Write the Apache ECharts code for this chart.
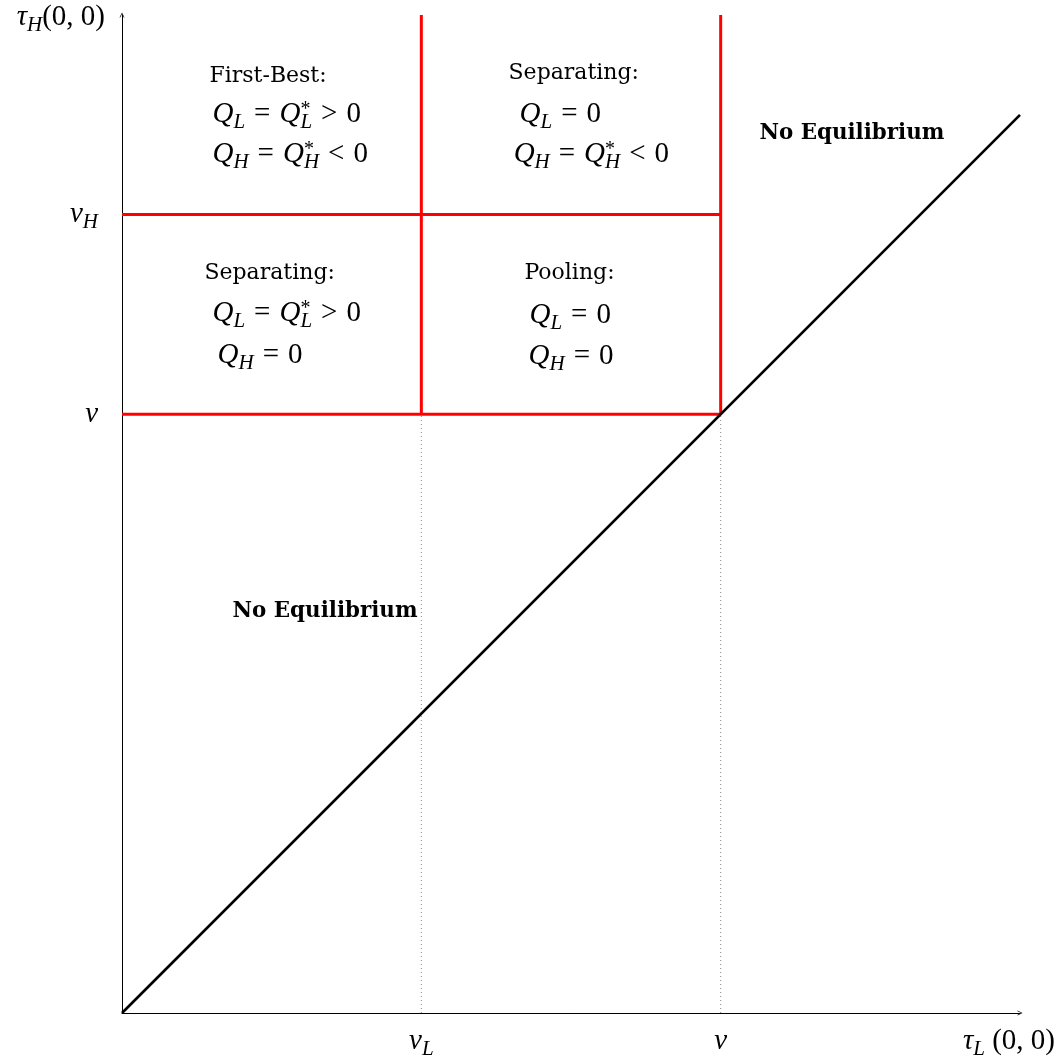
<!DOCTYPE html>
<html><head><meta charset="utf-8">
<script src="https://cdn.jsdelivr.net/npm/echarts@6/dist/echarts.min.js"></script>
<style>html,body{margin:0;padding:0;background:#fff}#c{width:1062px;height:1057px}</style>
</head><body><div id="c"></div>
<script>
// ---- data ----
const xTickValues = [1, 2];
const xTickLabels = ['{m|v}{s|L}', '{m|v}'];
const yTickValues = [2, 8 / 3];
const yTickLabels = ['{m|v}', '{m|v}{s|H}'];
const xAxisName = '{m|τ}{s|L}{r| (0, 0)}';
const yAxisName = '{m|τ}{s|H}{r|(0, 0)}';
const xRange = [0, 3];
const yRange = [0, 10 / 3];
const diagonalLine = [[0, 0], [3, 3]];
const redBoundaries = [
  [[0, 2], [2, 2]],
  [[0, 8 / 3], [2, 8 / 3]],
  [[1, 2], [1, 10 / 3]],
  [[2, 2], [2, 10 / 3]]
];
const dottedGuides = [
  [[1, 0], [1, 2]],
  [[2, 0], [2, 2]]
];
const regionTexts = [
  '{t|First-Best:}',
  '{m|Q}{s|L}{o|=}{m|Q}{p|*}{s|L}{o|>}{r|0}',
  '{m|Q}{s|H}{o|=}{m|Q}{p|*}{s|H}{o|<}{r|0}',
  '{t|Separating:}',
  '{m|Q}{s|L}{o|=}{r|0}',
  '{m|Q}{s|H}{o|=}{m|Q}{p|*}{s|H}{o|<}{r|0}',
  '{t|Separating:}',
  '{m|Q}{s|L}{o|=}{m|Q}{p|*}{s|L}{o|>}{r|0}',
  '{m|Q}{s|H}{o|=}{r|0}',
  '{t|Pooling:}',
  '{m|Q}{s|L}{o|=}{r|0}',
  '{m|Q}{s|H}{o|=}{r|0}',
  '{b|No Equilibrium}',
  '{b|No Equilibrium}'
];
const regionAnchors = [
  [0.294, 3.126], [0.304, 3.000], [0.304, 2.866],
  [1.293, 3.136], [1.330, 3.000], [1.310, 2.866],
  [0.277, 2.468], [0.304, 2.335], [0.321, 2.195],
  [1.346, 2.468], [1.363, 2.329], [1.360, 2.192],
  [2.131, 2.936], [0.371, 1.339]
];

// ---- styles ----
const MATH = '"Liberation Serif", "DejaVu Serif", serif';
const TEXT = '"DejaVu Serif", serif';
const base = { color: '#000', textBorderWidth: 0, textBorderColor: 'transparent' };
const rich = {
  t: Object.assign({ fontFamily: TEXT, fontSize: 22, lineHeight: 38 }, base),
  b: Object.assign({ fontFamily: TEXT, fontSize: 21.4, fontWeight: 'bold', lineHeight: 38 }, base),
  m: Object.assign({ fontFamily: MATH, fontSize: 29, fontStyle: 'italic', lineHeight: 38 }, base),
  r: Object.assign({ fontFamily: MATH, fontSize: 29, lineHeight: 38 }, base),
  o: Object.assign({ fontFamily: MATH, fontSize: 29, lineHeight: 38, padding: [0, 9, 0, 9] }, base),
  s: Object.assign({ fontFamily: MATH, fontSize: 21, fontStyle: 'italic', height: 22, verticalAlign: 'bottom' }, base),
  p: Object.assign({ fontFamily: MATH, fontSize: 20, height: 28, width: 0, verticalAlign: 'top' }, base)
};
const arrowPath = 'path://M0,10 L5,0 L10,10 L8.6,10 L5,2.8 L1.4,10 Z';

function segSeries(seg, style, z) {
  return { type: 'line', data: seg, symbol: 'none', silent: true, z: z, lineStyle: style, animation: false };
}

const series = [];
dottedGuides.forEach(s => series.push(segSeries(s, { color: '#888', width: 1, type: [1, 3] }, 2)));
redBoundaries.forEach(s => series.push(segSeries(s, { color: '#ff0000', width: 3 }, 3)));
series.push(segSeries(diagonalLine, { color: '#000', width: 2.6 }, 4));
series.push({
  type: 'scatter',
  data: regionAnchors,
  symbolSize: 1,
  itemStyle: { color: '#fff', opacity: 0 },
  silent: true,
  z: 5,
  animation: false,
  label: {
    show: true,
    position: [0, 0],
    align: 'left',
    verticalAlign: 'middle',
    color: '#000',
    opacity: 1,
    textBorderWidth: 0,
    textBorderColor: 'transparent',
    formatter: p => regionTexts[p.dataIndex],
    rich: rich
  }
});

const chart = echarts.init(document.getElementById('c'));
chart.setOption({
  backgroundColor: '#fff',
  animation: false,
  grid: { left: 122, right: 42, top: 15, bottom: 44, containLabel: false, outerBoundsMode: 'none' },
  xAxis: {
    type: 'value', min: xRange[0], max: xRange[1], interval: 1,
    splitLine: { show: false },
    axisTick: { show: false },
    axisLine: { show: true, onZero: false, symbol: ['none', arrowPath], symbolSize: [7, 5], lineStyle: { color: '#000', width: 1 } },
    axisLabel: {
      show: true, margin: 9,
      customValues: xTickValues,
      formatter: v => { const i = xTickValues.findIndex(t => Math.abs(t - v) < 1e-6); return i < 0 ? '' : xTickLabels[i]; },
      rich: rich
    },
    name: xAxisName, nameLocation: 'end', nameGap: 35,
    nameTextStyle: { align: 'right', verticalAlign: 'top', padding: [9, 0, 0, 0], rich: rich }
  },
  yAxis: {
    type: 'value', min: yRange[0], max: yRange[1],
    splitLine: { show: false },
    axisTick: { show: false },
    axisLine: { show: true, onZero: false, symbol: ['none', arrowPath], symbolSize: [7, 5], lineStyle: { color: '#000', width: 1 } },
    axisLabel: {
      show: true, margin: 24,
      customValues: yTickValues,
      formatter: v => { const i = yTickValues.findIndex(t => Math.abs(t - v) < 1e-6); return i < 0 ? '' : yTickLabels[i]; },
      rich: rich
    },
    name: yAxisName, nameLocation: 'end', nameGap: 0,
    nameTextStyle: { align: 'right', verticalAlign: 'middle', padding: [4, 17, 0, 0], rich: rich }
  },
  series: series
});
</script>
</body></html>
